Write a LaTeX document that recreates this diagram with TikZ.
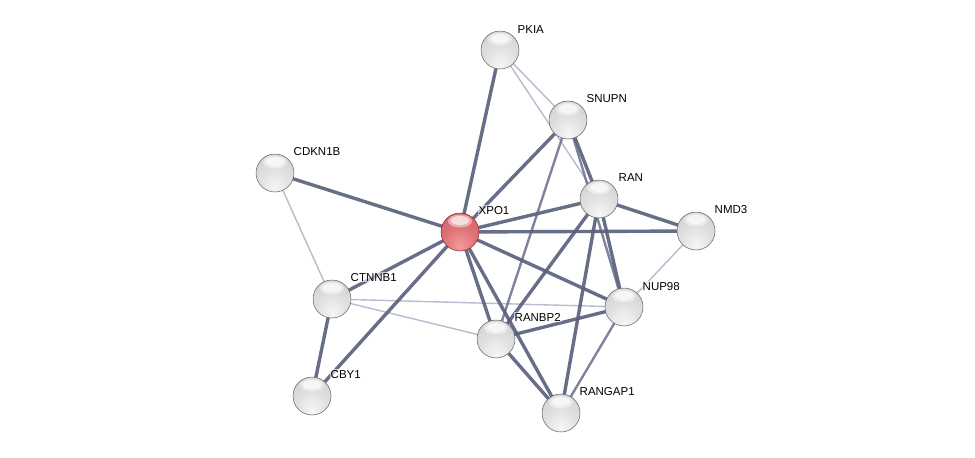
\documentclass[tikz,border=0pt]{standalone}
\usepackage{fontspec}
\setmainfont{Liberation Sans}
\definecolor{gA}{HTML}{F6F6F6}
\definecolor{gB}{HTML}{DEDEDE}
\definecolor{gC}{HTML}{C8C8C8}
\definecolor{gD}{HTML}{9A9A9A}
\definecolor{rA}{HTML}{F49A9C}
\definecolor{rB}{HTML}{DE7074}
\definecolor{rC}{HTML}{CC5A5E}
\definecolor{rD}{HTML}{A23C40}
\definecolor{edgeS}{RGB}{92,98,125}
\definecolor{edgeM}{RGB}{112,118,148}
\definecolor{edgeW}{RGB}{184,188,206}
\pgfdeclareradialshading{gsphere}{\pgfpoint{0bp}{-20bp}}{color(0bp)=(gA); color(22bp)=(gB); color(48bp)=(gC); color(62bp)=(gC); color(70bp)=(gD)}
\pgfdeclareradialshading{rsphere}{\pgfpoint{0bp}{-20bp}}{color(0bp)=(rA); color(22bp)=(rB); color(48bp)=(rC); color(62bp)=(rC); color(70bp)=(rD)}
\pgfdeclareradialshading{hilite}{\pgfpoint{0bp}{0bp}}{color(0bp)=(white); color(20bp)=(white); color(50bp)=(white)}
\begin{document}
\begin{tikzpicture}[x=1pt,y=-1pt,
  prot/.style={circle,minimum size=38pt,inner sep=0pt,shading=gsphere,draw=gray!75!black,line width=0.5pt,
    path picture={\fill[white,opacity=0.45] ([yshift=-8pt]path picture bounding box.north) ellipse (12pt and 6.5pt);
                  \fill[white,opacity=0.6] ([yshift=-7.5pt]path picture bounding box.north) ellipse (9pt and 4.5pt);}},
  seed/.style={prot,shading=rsphere,draw={rgb,255:red,140;green,40;blue,44}},
  lab/.style={anchor=base west,font=\fontsize{11.5}{13}\selectfont,inner sep=0.5pt,fill=white,fill opacity=0.6,text opacity=1},
  strong/.style={draw=edgeS,line width=3.4pt,opacity=0.92},
  medium/.style={draw=edgeM,line width=2.4pt,opacity=0.9},
  weak/.style={draw=edgeW,line width=1.4pt}]
\useasboundingbox (0,0) rectangle (975,458);
\fill[white] (0,0) rectangle (975,458);
% coordinates of nodes
\coordinate (pPKIA) at (500,50);
\coordinate (pSNUPN) at (568,120);
\coordinate (pRAN) at (599,199);
\coordinate (pNMD3) at (696,231);
\coordinate (pXPO1) at (460,232);
\coordinate (pCDKN1B) at (275,173);
\coordinate (pCTNNB1) at (332,299);
\coordinate (pNUP98) at (624,307);
\coordinate (pRANBP2) at (496,339);
\coordinate (pCBY1) at (312,396);
\coordinate (pRANGAP1) at (561,413);
% edges
\draw[weak] (pPKIA) -- (pSNUPN);
\draw[weak] (pPKIA) -- (pRAN);
\draw[weak] (pCDKN1B) -- (pCTNNB1);
\draw[weak] (pCTNNB1) -- (pNUP98);
\draw[weak] (pCTNNB1) -- (pRANBP2);
\draw[weak] (pNMD3) -- (pNUP98);
\draw[medium] (pSNUPN) -- (pRANBP2);
\draw[medium] (pNUP98) -- (pRANGAP1);
\draw[medium] (pSNUPN) -- (pNUP98);
\draw[strong] (pXPO1) -- (pPKIA);
\draw[strong] (pXPO1) -- (pSNUPN);
\draw[strong] (pXPO1) -- (pRAN);
\draw[strong] (pXPO1) -- (pNMD3);
\draw[strong] (pXPO1) -- (pCDKN1B);
\draw[strong] (pXPO1) -- (pCTNNB1);
\draw[strong] (pXPO1) -- (pCBY1);
\draw[strong] (pXPO1) -- (pNUP98);
\draw[strong] (pXPO1) -- (pRANBP2);
\draw[strong] (pXPO1) -- (pRANGAP1);
\draw[strong] (pSNUPN) -- (pRAN);
\draw[strong] (pRAN) -- (pNMD3);
\draw[strong] (pRAN) -- (pRANBP2);
\draw[strong] (pRAN) -- (pRANGAP1);
\draw[strong] (pRAN) -- (pNUP98);
\draw[strong] (pNUP98) -- (pRANBP2);
\draw[strong] (pRANBP2) -- (pRANGAP1);
\draw[strong] (pCTNNB1) -- (pCBY1);
% nodes
\node[prot] (PKIA) at (pPKIA) {};
\node[prot] (SNUPN) at (pSNUPN) {};
\node[prot] (RAN) at (pRAN) {};
\node[prot] (NMD3) at (pNMD3) {};
\node[seed] (XPO1) at (pXPO1) {};
\node[prot] (CDKN1B) at (pCDKN1B) {};
\node[prot] (CTNNB1) at (pCTNNB1) {};
\node[prot] (NUP98) at (pNUP98) {};
\node[prot] (RANBP2) at (pRANBP2) {};
\node[prot] (CBY1) at (pCBY1) {};
\node[prot] (RANGAP1) at (pRANGAP1) {};
% labels
\node[lab] (lPKIA) at ([shift={(17,-17)}]pPKIA) {PKIA};
\node[lab] (lSNUPN) at ([shift={(18,-18)}]pSNUPN) {SNUPN};
\node[lab] (lRAN) at ([shift={(19,-18)}]pRAN) {RAN};
\node[lab] (lNMD3) at ([shift={(18,-18)}]pNMD3) {NMD3};
\node[lab] (lXPO1) at ([shift={(18,-18)}]pXPO1) {XPO1};
\node[lab] (lCDKN1B) at ([shift={(18,-18)}]pCDKN1B) {CDKN1B};
\node[lab] (lCTNNB1) at ([shift={(18,-18)}]pCTNNB1) {CTNNB1};
\node[lab] (lNUP98) at ([shift={(18,-17)}]pNUP98) {NUP98};
\node[lab] (lRANBP2) at ([shift={(18,-18)}]pRANBP2) {RANBP2};
\node[lab] (lCBY1) at ([shift={(18,-18)}]pCBY1) {CBY1};
\node[lab] (lRANGAP1) at ([shift={(18,-18)}]pRANGAP1) {RANGAP1};
\end{tikzpicture}
\end{document}
